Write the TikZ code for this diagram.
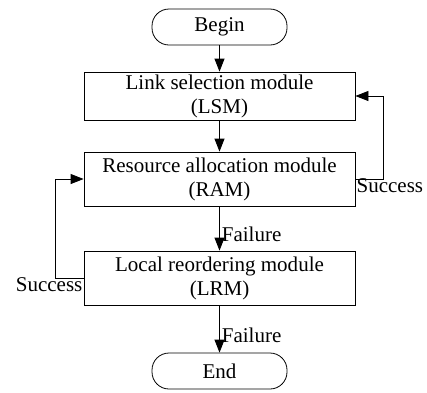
\documentclass[tikz,border=0pt]{standalone}
\usepackage{fontspec}
\setmainfont{Liberation Serif}
\usetikzlibrary{arrows.meta}
\begin{document}
\begin{tikzpicture}[x=1pt,y=-1pt,
  font=\fontsize{21}{24}\selectfont,
  every node/.style={inner sep=0pt},
  term/.style={draw,line width=0.8pt,rounded corners=17pt,minimum width=135pt,minimum height=36pt},
  module/.style={draw,line width=0.8pt,minimum width=271pt,align=center},
  arr/.style={line width=0.8pt,-{Triangle[length=13pt,width=10pt]}},
  lbl/.style={inner sep=1pt}]
\useasboundingbox (0,0) rectangle (427,392);
\node[term] (begin) at (219.5,27) {Begin};
\node[module,minimum height=48pt] (lsm) at (219.5,96) {Link selection module\\(LSM)};
\node[module,minimum height=54pt] (ram) at (219.5,179) {Resource allocation module\\(RAM)};
\node[module,minimum height=54pt] (lrm) at (219.5,278) {Local reordering module\\(LRM)};
\node[term] (end) at (219.5,371) {End};
\coordinate (r) at (383,96);
\coordinate (l) at (55,179);
\draw[arr] (begin) -- (lsm);
\draw[arr] (lsm) -- (ram);
\draw[arr] (ram) -- node[lbl,anchor=west,xshift=1pt,yshift=-6pt] {Failure} (lrm);
\draw[arr] (lrm) -- node[lbl,anchor=west,xshift=1pt,yshift=-6pt] {Failure} (end);
\draw[arr] (ram.east) -| (r) -- (lsm.east);
\draw[arr] (lrm.west) -| (l) -- (ram.west);
\node[lbl,anchor=north west] (s1) at ([yshift=2pt]ram.east) {Success};
\node[lbl,anchor=north east] (s2) at ([yshift=2pt]lrm.west) {Success};
\end{tikzpicture}
\end{document}
